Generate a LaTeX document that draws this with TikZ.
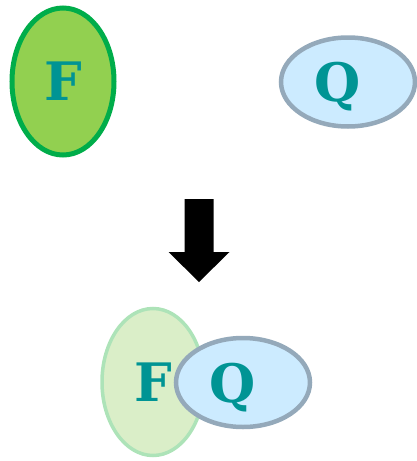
\documentclass[tikz,border=0pt]{standalone}
\usepackage{fontspec}
\setmainfont{DejaVu Serif}
\usetikzlibrary{shapes.geometric}

\definecolor{leafgreen}{HTML}{92D050}
\definecolor{leafedge}{HTML}{00AD4A}
\definecolor{palegreen}{HTML}{DAEEC8}
\definecolor{paleedge}{HTML}{ADE3B8}
\definecolor{skyfill}{HTML}{CCEBFF}
\definecolor{slateedge}{HTML}{94A9BA}
\definecolor{tealtext}{HTML}{009494}

\tikzset{
  fset/.style={ellipse, draw=leafedge, fill=leafgreen, line width=5pt,
    minimum width=102pt, minimum height=147pt, inner sep=0pt},
  fpale/.style={fset, draw=paleedge, fill=palegreen, line width=3.5pt},
  qset/.style={ellipse, draw=slateedge, fill=skyfill, line width=4.5pt,
    minimum width=134pt, minimum height=89pt, inner sep=0pt},
  letter/.style={font=\bfseries\fontsize{53}{53}\selectfont, text=tealtext,
    text depth=0pt, inner sep=0pt},
}

\begin{document}
\begin{tikzpicture}[x=1pt,y=-1pt]
\useasboundingbox (0,0) rectangle (417,461);

% separate sets F and Q
\node[fset] (f1) at (63,81.5) {};
\node[letter] (f1t) at (f1.center) {F};
\node[qset] (q1) at (348,82) {};
\node[letter] (q1t) at ([xshift=-10pt]q1.center) {Q};

% block arrow
\fill[black] (184.5,199) -- (213.5,199) -- (213.5,252) -- (229.5,252)
  -- (199,282) -- (168.5,252) -- (184.5,252) -- cycle;

% Q laid over a faded F
\node[fpale] (f2) at (153,382) {};
\node[letter] (f2t) at (f2.center) {F};
\node[qset] (q2) at (243,382.5) {};
\node[letter] (q2t) at ([xshift=-10pt]q2.center) {Q};
\end{tikzpicture}
\end{document}
